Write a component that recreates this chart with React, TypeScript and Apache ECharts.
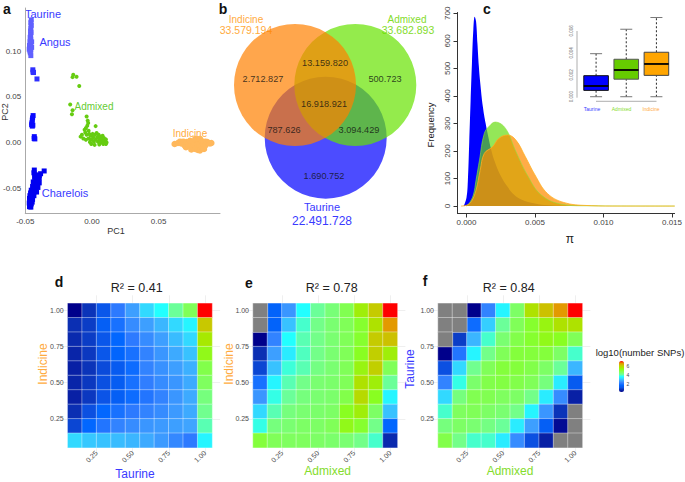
import React, { useEffect, useRef } from "react";
import * as echarts from "echarts";

const FONT = "'Liberation Sans', Arial, sans-serif";

// ---------- panel a: PCA ----------
const angus = [[-0.0455,0.134],[-0.0458,0.131],[-0.0455,0.128],[-0.0458,0.125],[-0.046,0.122],[-0.0456,0.12],[-0.046,0.118],[-0.0463,0.115],[-0.0458,0.113],[-0.0465,0.11],[-0.046,0.108],[-0.0452,0.11],[-0.0468,0.106],[-0.046,0.105],[-0.0452,0.104],[-0.047,0.102],[-0.0465,0.1],[-0.0458,0.101],[-0.0462,0.098],[-0.0458,0.095]];
const taurineMid = [[-0.0443,0.0795],[-0.0442,0.077],[-0.0438,0.0765],[-0.0412,0.0695]];
const taurineDark = [[-0.0441,0.0295],[-0.0445,0.027],[-0.0447,0.0245],[-0.045,0.0215],[-0.0452,0.0195],[-0.0443,0.019],[-0.0447,0.018],[-0.0432,0.0065],[-0.0433,0.0045],[-0.0428,0.004]];
const charolais = [[-0.0432,-0.03],[-0.0435,-0.033],[-0.0425,-0.035],[-0.0358,-0.031],[-0.0385,-0.034],[-0.0395,-0.036],[-0.041,-0.037],[-0.043,-0.038],[-0.0395,-0.039],[-0.042,-0.041],[-0.0405,-0.042],[-0.044,-0.043],[-0.0415,-0.044],[-0.0395,-0.044],[-0.043,-0.046],[-0.041,-0.047],[-0.0445,-0.048],[-0.0425,-0.05],[-0.0405,-0.049],[-0.044,-0.051],[-0.0455,-0.052],[-0.0435,-0.054],[-0.0415,-0.054],[-0.046,-0.055],[-0.0445,-0.056],[-0.0465,-0.058],[-0.0435,-0.058],[-0.0452,-0.06],[-0.0468,-0.061],[-0.0445,-0.062],[-0.0462,-0.064],[-0.0448,-0.065],[-0.047,-0.066],[-0.0455,-0.067],[-0.0465,-0.069],[-0.0458,-0.0705],[-0.0468,-0.07]];
const admixedPts = [[-0.014,0.074],[-0.0145,0.0715],[-0.0115,0.072],[-0.0095,0.0617],[-0.0163,0.0416],[-0.0145,0.0354],[-0.015,0.031],[-0.004,0.0285],[-0.0032,0.024],[-0.0028,0.0215],[0.00275,0.018],[-0.0035,0.0185],[-0.0045,0.016],[-0.0055,0.014],[-0.005,0.011],[-0.0025,0.013],[-0.0075,0.0085],[-0.0085,0.0065],[-0.0065,0.0045],[-0.004,0.0085],[-0.002,0.0095],[-0.001,0.0075],[-0.0045,0.003],[-0.0025,0.0045],[-0.001,0.003],[0.0005,0.0095],[0.001,0.0055],[0.002,0.0085],[0.0015,0.001],[-0.0015,0.0005],[0.003,0.0035],[0.0035,0.0105],[0.004,0.006],[0.0045,0.001],[0.005,0.0085],[0.0055,0.0045],[0.006,0.0015],[0.0065,0.0065],[0.007,0.0],[0.0075,0.004],[0.008,0.0075],[0.0085,0.0015],[0.009,0.005],[0.0095,0.001],[0.0105,0.0035],[0.011,0.0],[0.0105,-0.0015],[0.0085,-0.0015],[0.0055,-0.002],[0.002,-0.0025],[-0.0005,-0.0015],[0.0,0.0035]];
const indicinePts = [[0.062,-0.0015],[0.0645,-0.0005],[0.066,0.001],[0.067,-0.001],[0.0685,0.001],[0.0695,-0.003],[0.071,0.0005],[0.0705,-0.005],[0.0725,-0.002],[0.0735,0.002],[0.074,-0.004],[0.0745,-0.0075],[0.076,0.001],[0.0765,-0.003],[0.0775,0.004],[0.0775,-0.007],[0.079,0.0035],[0.079,-0.002],[0.0795,-0.008],[0.081,0.004],[0.081,-0.0025],[0.081,-0.0085],[0.0825,0.0015],[0.0825,-0.005],[0.0835,-0.0015],[0.084,-0.007],[0.085,0.001],[0.085,-0.003],[0.0865,0.0005],[0.0875,-0.0005],[0.0895,-0.0005],[0.0885,-0.001]];
const pcaXTicks = [-0.05, 0, 0.05];
const pcaYTicks = [-0.05, 0, 0.05, 0.1];

// ---------- panel b: Venn ----------
const vennCounts = ["2.712.827", "13.159.820", "500.723", "16.918.921", "787.626", "3.094.429", "1.690.752"];
const vennTotals = ["33.579.194", "33.682.893", "22.491.728"];

// ---------- panel c: density ----------
const densityTaurine = [[-0.0002,0],[0,30],[0.0001,90],[0.0002,230],[0.0003,380],[0.0004,520],[0.0005,640],[0.0006,688],[0.0007,670],[0.0008,590],[0.0009,510],[0.001,450],[0.0012,360],[0.0014,300],[0.0016,250],[0.0018,205],[0.002,170],[0.0025,110],[0.003,70],[0.0035,40],[0.004,24],[0.005,9],[0.006,3],[0.008,0],[0.0152,0]];
const densityAdmixed = [[0,0],[0.0002,10],[0.0005,40],[0.0007,95],[0.00095,167],[0.0013,264],[0.0017,292],[0.0021,305],[0.00285,282],[0.00356,203],[0.0045,107],[0.00546,40],[0.0069,7],[0.0085,1],[0.0152,0]];
const densityIndicine = [[-0.0004,0],[0,3],[0.00035,16],[0.0007,58],[0.001,130],[0.0013,191],[0.0019,215],[0.00237,246],[0.003,258],[0.0036,240],[0.0043,179],[0.005,113],[0.0059,46],[0.0071,13],[0.0088,2],[0.011,0],[0.0152,0]];
const densityXTicks = [0, 0.005, 0.01, 0.015];
const densityYTicks = [0, 100, 200, 300, 400, 500, 600, 700];

// ---------- panel c inset: boxplots ----------
const boxGroups = ["Taurine", "Admixed", "Indicine"];
const boxStats = [
  [0, 0.00058, 0.00098, 0.00192, 0.00393],
  [0, 0.0016, 0.00244, 0.00342, 0.00616],
  [0, 0.00195, 0.00299, 0.00406, 0.00723],
];
const boxYTicks = [0, 0.002, 0.004, 0.006];

// ---------- panels d, e, f: log10(number of SNPs), rows from top to bottom ----------
const NA = null;
const heatD = [
  [1.0,1.5,1.9,2.7,3.1,3.6,4.0,4.4,4.9,7.0],
  [1.45,1.6,2.1,2.5,2.9,3.1,3.3,3.6,3.9,6.14],
  [1.4,1.6,1.9,2.3,2.7,2.9,3.1,3.35,3.6,5.7],
  [1.35,1.55,1.9,2.25,2.5,2.8,3.0,3.2,3.4,5.4],
  [1.3,1.5,1.75,2.0,2.4,2.8,2.95,3.1,3.25,5.0],
  [1.35,1.55,1.8,2.05,2.5,2.75,2.9,3.0,3.2,4.85],
  [1.3,1.55,1.85,2.1,2.4,2.6,2.8,3.0,3.2,4.6],
  [1.45,1.8,2.3,2.5,2.7,2.8,2.9,3.05,3.2,4.45],
  [1.7,2.3,2.6,2.8,2.9,3.0,3.05,3.1,3.15,4.3],
  [3.6,3.45,3.4,3.35,3.3,3.2,3.05,2.85,2.7,3.9],
];
const heatE = [
  [NA,2.2,3.0,4.0,4.4,4.65,4.95,5.6,6.1,7.0],
  [NA,2.2,3.4,4.2,4.5,4.7,4.9,5.2,5.8,6.5],
  [1.0,2.8,4.0,4.3,4.5,4.7,4.9,5.2,6.1,6.2],
  [1.45,3.1,3.8,4.25,4.5,4.7,4.9,5.3,6.05,5.6],
  [1.7,3.4,4.15,4.3,4.55,4.7,4.9,5.5,6.05,4.9],
  [2.5,3.9,4.3,4.5,4.7,4.75,4.9,5.8,5.6,4.4],
  [3.0,4.1,4.4,4.6,4.7,4.75,5.0,5.9,5.3,3.9],
  [3.6,4.3,4.6,4.7,4.75,4.8,5.3,5.6,4.8,3.4],
  [4.1,4.6,4.7,4.8,4.8,4.9,5.4,5.2,4.5,2.3],
  [5.1,4.9,4.85,4.85,4.8,4.75,4.7,4.5,4.2,1.4],
];
const heatF = [
  [NA,NA,1.0,2.8,3.9,4.8,5.8,6.2,6.5,7.0],
  [NA,NA,2.4,3.5,4.4,4.9,5.2,5.5,5.8,5.8],
  [NA,1.6,3.3,4.2,4.7,5.0,5.2,5.4,5.3,4.9],
  [1.0,2.6,3.9,4.5,4.9,5.1,5.1,5.1,4.8,4.2],
  [1.8,3.6,4.45,4.9,5.1,5.1,5.0,4.8,4.4,3.3],
  [2.8,4.1,4.75,5.0,5.05,5.0,4.9,4.6,3.8,2.0],
  [3.6,4.6,4.95,4.95,4.85,4.8,4.5,3.8,2.9,1.3],
  [4.2,4.85,4.9,4.8,4.7,4.5,3.9,3.0,1.5,NA],
  [4.6,4.8,4.7,4.55,4.4,3.8,3.1,2.1,1.1,NA],
  [5.0,4.5,4.2,4.2,3.8,2.9,1.8,1.3,NA,NA],
];
const heatTicks = [0.25, 0.5, 0.75, 1];
const legendTicks = [6, 4, 2];

// ---------- styles ----------
const BLUE = "#3a3aff";
const GREEN = "#84dc2c";
const ORANGE = "#ffab40";
const JET = ["#00008B","#0B2DB0","#0B55E8","#0066FF","#2F7BFF","#3FA3FF","#33D6FF","#22FFFF","#70FF92","#7FFF5E","#88FF22","#A8E800","#C8C800","#E89000","#FF0000"];

const T = (text: string, x: number, y: number, size: number, fill: string, extra: any = {}) => ({
  type: "text",
  x,
  y,
  rotation: extra.rot ? Math.PI / 2 : 0,
  silent: true,
  style: { text, fill, fontSize: size, fontFamily: FONT, fontWeight: extra.bold ? "bold" : "normal", textAlign: "center", textVerticalAlign: "middle" },
});

const seg = (x1: number, y1: number, x2: number, y2: number, stroke: string) => ({
  type: "line",
  silent: true,
  shape: { x1, y1, x2, y2 },
  style: { stroke, lineWidth: 0.8 },
});

function buildOption() {
  const grid: any[] = [];
  const xAxis: any[] = [];
  const yAxis: any[] = [];
  const series: any[] = [];

  // panel a
  grid.push({ left: 25, top: 8, width: 195, height: 205 });
  const pcaLabel = { fontSize: 8, color: "#444", fontFamily: FONT, formatter: (v: number) => v.toFixed(2) };
  xAxis.push({ type: "value", gridIndex: 0, min: -0.05, max: 0.096, splitLine: { show: false }, axisTick: { show: false, customValues: pcaXTicks }, axisLine: { onZero: false, lineStyle: { color: "#aaa", width: 1 } }, axisLabel: { ...pcaLabel, customValues: pcaXTicks, margin: 4, hideOverlap: false } });
  yAxis.push({ type: "value", gridIndex: 0, min: -0.0769, max: 0.147, splitLine: { show: false }, axisTick: { show: false, customValues: pcaYTicks }, axisLine: { onZero: false, lineStyle: { color: "#aaa", width: 1 } }, axisLabel: { ...pcaLabel, customValues: pcaYTicks, margin: 4 } });
  const pca = (data: number[][], color: string, symbol: string, symbolSize: number) => series.push({ type: "scatter", xAxisIndex: 0, yAxisIndex: 0, data, symbol, symbolSize, itemStyle: { color, opacity: 1 }, silent: true });
  pca(angus, "#6060ff", "rect", 5);
  pca(taurineMid, "#3030ff", "rect", 5);
  pca(taurineDark, "#0a0aff", "rect", 5);
  pca(charolais, "#0000f0", "rect", 5);
  pca(admixedPts, "#66cc11", "circle", 4);
  pca(indicinePts, "#ffb85c", "circle", 6.5);

  // panel b: blue first, then green, orange on top
  grid.push({ left: 220, top: 0, width: 220, height: 240 });
  const hiddenAxis = (gridIndex: number, min: number, max: number, inverse = false) => ({ type: "value", gridIndex, min, max, inverse, show: false });
  xAxis.push(hiddenAxis(1, 220, 440));
  yAxis.push(hiddenAxis(1, 0, 240, true));
  series.push({
    type: "scatter", xAxisIndex: 1, yAxisIndex: 1, silent: true, symbolSize: 122,
    data: [
      { value: [325.7, 137.7], itemStyle: { color: "rgb(0,0,255)", opacity: 0.7 } },
      { value: [355.3, 85], itemStyle: { color: "rgb(102,226,0)", opacity: 0.7 } },
      { value: [295, 85], itemStyle: { color: "rgb(255,128,0)", opacity: 0.7 } },
    ],
  });
  const vennPos = [[263, 79], [325, 63], [385, 79], [324, 104], [284, 130], [359, 130], [324, 176]];
  series.push({
    type: "scatter", xAxisIndex: 1, yAxisIndex: 1, silent: true, symbolSize: 0, z: 5,
    data: vennCounts.map((name, i) => ({ name, value: vennPos[i] })),
    label: { show: true, position: "inside", formatter: "{b}", fontSize: 9.2, color: "#111", fontFamily: FONT },
  });

  // panel c
  grid.push({ left: 457.5, top: 12.5, width: 222.5, height: 201 });
  const axisC = { color: "#333", width: 1 };
  xAxis.push({ type: "value", gridIndex: 2, min: -0.000655, max: 0.01519, splitLine: { show: false }, axisLine: { onZero: false, lineStyle: axisC }, axisTick: { length: 4, customValues: densityXTicks, lineStyle: axisC }, axisLabel: { customValues: densityXTicks, fontSize: 8, color: "#444", fontFamily: FONT, margin: 5, formatter: (v: number) => v.toFixed(3) } });
  yAxis.push({ type: "value", gridIndex: 2, min: -27, max: 703, splitLine: { show: false }, axisLine: { onZero: false, lineStyle: axisC }, axisTick: { length: 4, customValues: densityYTicks, lineStyle: axisC }, axisLabel: { customValues: densityYTicks, fontSize: 8, color: "#444", fontFamily: FONT, rotate: 90, margin: 6 } });
  const dens = (data: number[][], fill: string, opacity: number, line: string, width: number) => series.push({
    type: "line", xAxisIndex: 2, yAxisIndex: 2, data, symbol: "none", smooth: 0.4, silent: true,
    lineStyle: { color: line, width }, areaStyle: { color: fill, opacity, origin: 0 },
  });
  dens(densityTaurine, "#0000ff", 1, "#0000ff", 0);
  dens(densityAdmixed, "#66dd11", 0.7, "#8fe03a", 0.6);
  dens(densityIndicine, "#ff8c00", 0.72, "#ffb020", 0.8);

  // panel c inset
  grid.push({ left: 581, top: 15, width: 90.5, height: 86 });
  xAxis.push({ type: "category", gridIndex: 3, data: boxGroups, axisLine: { show: false }, axisTick: { show: false }, axisLabel: { show: false } });
  yAxis.push({ type: "value", gridIndex: 3, min: -0.00039, max: 0.00746, offset: 4, splitLine: { show: false }, axisLine: { show: false, onZero: false }, axisTick: { length: 2, customValues: boxYTicks, lineStyle: { color: "#888", width: 0.7 } }, axisLabel: { customValues: boxYTicks, fontSize: 4.5, color: "#666", fontFamily: FONT, rotate: 90, margin: 3, formatter: (v: number) => v.toFixed(3) } });
  const boxFill = ["#0000ff", "#66cc00", "#ffa500"];
  const boxEdge = ["#111", "#555", "#444"];
  series.push({
    type: "custom", xAxisIndex: 3, yAxisIndex: 3, silent: true, z: 6,
    data: boxStats.map((s, i) => [i, ...s]),
    encode: { x: 0, y: [1, 2, 3, 4, 5] },
    renderItem: (_: any, api: any) => {
      const i = api.value(0);
      const x = api.coord([i, 0])[0];
      const y = (k: number) => api.coord([i, api.value(k)])[1];
      const hw = 12.3;
      const ln = (x1: number, y1: number, x2: number, y2: number, stroke: string, lineWidth: number, lineDash?: number[]) => ({ type: "line", shape: { x1, y1, x2, y2 }, style: { stroke, lineWidth, lineDash } });
      return {
        type: "group",
        children: [
          ln(x, y(1), x, y(2), "#111", 0.9, [2, 2]),
          ln(x, y(4), x, y(5), "#111", 0.9, [2, 2]),
          ln(x - 6, y(1), x + 6, y(1), "#777", 1),
          ln(x - 6, y(5), x + 6, y(5), "#777", 1),
          { type: "rect", shape: { x: x - hw, y: y(4), width: 2 * hw, height: y(2) - y(4) }, style: { fill: boxFill[i], stroke: boxEdge[i], lineWidth: 1 } },
          ln(x - hw, y(3), x + hw, y(3), "#000", 1.8),
        ],
      };
    },
  });

  // panels d, e, f
  const CELL = 14.44;
  const heatSeries: number[] = [];
  const naSeries: number[] = [];
  const panel = (left: number, rows: (number | null)[][]) => {
    const top = 303.3;
    const size = CELL * 10;
    const ext = 8;
    const perPx = 0.1 / CELL;
    // backing grid: faint reference lines that run past the tiles
    let g = grid.length;
    grid.push({ left: left - ext, top: top - ext, width: size + 2 * ext, height: size + 2 * ext });
    const faint = (min: number, max: number) => ({
      type: "value", gridIndex: g, min, max,
      axisLine: { show: false }, axisLabel: { show: false },
      axisTick: { show: false, customValues: heatTicks },
      splitLine: { show: true, lineStyle: { color: "#efefef", width: 1 } },
    });
    xAxis.push(faint(0.05 - ext * perPx, 1.05 + ext * perPx));
    yAxis.push(faint(0.05 - ext * perPx, 1.05 + ext * perPx));
    // tiles
    g = grid.length;
    grid.push({ left, top, width: size, height: size });
    const cats = ["1", "2", "3", "4", "5", "6", "7", "8", "9", "10"];
    const cat = (position: string) => ({ type: "category", gridIndex: g, data: cats, show: false, position, splitArea: { show: false } });
    const xCat = xAxis.length;
    xAxis.push(cat("top"));
    const yCat = yAxis.length;
    yAxis.push(cat("right"));
    const heatLabel = { customValues: heatTicks, fontSize: 7, color: "#4d4d4d", fontFamily: FONT, formatter: (v: number) => v.toFixed(2) };
    const valueBase = { type: "value", gridIndex: g, min: 0.05, max: 1.05, splitLine: { show: false }, axisLine: { show: false, onZero: false } };
    xAxis.push({ ...valueBase, position: "bottom", axisTick: { show: false, customValues: heatTicks }, axisLabel: { ...heatLabel, rotate: 45, margin: 4 } });
    yAxis.push({ ...valueBase, position: "left", axisTick: { show: false, customValues: heatTicks }, axisLabel: { ...heatLabel, margin: 4, padding: [0, 0, 5, 0] } });
    const data: number[][] = [];
    const naData: number[][] = [];
    rows.forEach((row, r) => row.forEach((v, c) => {
      if (v === null) naData.push([c, 9 - r, 1]);
      else data.push([c, 9 - r, v]);
    }));
    const itemStyle = { borderColor: "rgba(255,255,255,0.55)", borderWidth: 0.7 };
    heatSeries.push(series.length);
    series.push({ type: "heatmap", xAxisIndex: xCat, yAxisIndex: yCat, data, silent: true, itemStyle, emphasis: { disabled: true } });
    naSeries.push(series.length);
    series.push({ type: "heatmap", xAxisIndex: xCat, yAxisIndex: yCat, data: naData, silent: true, itemStyle, emphasis: { disabled: true } });
  };
  panel(67.7, heatD);
  panel(253, heatE);
  panel(438, heatF);

  const graphic = [
    T("a", 7, 9, 14, "#111", { bold: true }),
    T("b", 223, 9, 14, "#111", { bold: true }),
    T("c", 487, 9, 14, "#111", { bold: true }),
    T("d", 59, 282, 14, "#111", { bold: true }),
    T("e", 249, 283, 14, "#111", { bold: true }),
    T("f", 425, 281, 14, "#111", { bold: true }),
    // panel a
    T("Taurine", 43, 14, 11, BLUE),
    T("Angus", 55, 42, 11, BLUE),
    T("Admixed", 94, 106, 10, "#66cc33"),
    T("Indicine", 190, 133, 10, ORANGE),
    T("Charelois", 65, 193, 11, BLUE),
    T("PC1", 116, 231, 9, "#333"),
    T("PC2", 5, 112, 9, "#333", { rot: true }),
    // panel b
    T("Indicine", 246, 19, 10, ORANGE),
    T(vennTotals[0], 246, 30, 10.5, ORANGE),
    T("Admixed", 407, 19, 10, GREEN),
    T(vennTotals[1], 408, 30, 10.5, GREEN),
    T("Taurine", 322, 207, 11, BLUE),
    T(vennTotals[2], 322, 221, 12, BLUE),
    // panel c
    T("Frequency", 430, 125, 9.5, "#222", { rot: true }),
    T("π", 570, 239, 12, "#222"),
    seg(577, 31, 577, 97.7, "#999"),
    seg(596, 101.3, 656.5, 101.3, "#999"),
    T(boxGroups[0], 592, 108.5, 5, BLUE),
    T(boxGroups[1], 621.5, 109, 5, GREEN),
    T(boxGroups[2], 651, 109, 5, ORANGE),
    // heatmap titles and axes
    T("R² = 0.41", 136.7, 288, 12.5, "#222"),
    T("R² = 0.78", 331.7, 288, 12.5, "#222"),
    T("R² = 0.84", 508.7, 288, 12.5, "#222"),
    T("Taurine", 135, 474, 12, BLUE),
    T("Indicine", 42.7, 364, 12, ORANGE, { rot: true }),
    T("Admixed", 327.7, 471, 12, GREEN),
    T("Indicine", 229.3, 364, 12, ORANGE, { rot: true }),
    T("Admixed", 510, 471, 12, GREEN),
    T("Taurine", 410, 369, 12, BLUE, { rot: true }),
    T("log10(number SNPs)", 640, 352, 9.5, "#222"),
    ...legendTicks.map((v) => T(String(v), 628, 388 - (v - 1) * 4.4, 5, "#444")),
  ];

  return {
    animation: false,
    backgroundColor: "#fff",
    grid, xAxis, yAxis, series, graphic,
    visualMap: [
      {
        type: "continuous",
        min: 1, max: 7,
        left: 619, top: 361,
        itemWidth: 5, itemHeight: 31,
        calculable: false, hoverLink: false, realtime: false,
        padding: 0,
        text: ["", ""],
        seriesIndex: heatSeries,
        dimension: 2,
        inRange: { color: JET },
      },
      {
        type: "continuous",
        show: false,
        min: 0, max: 2,
        seriesIndex: naSeries,
        dimension: 2,
        inRange: { color: ["#808080", "#808080"] },
      },
    ],
  };
}

export default function App() {
  const ref = useRef<HTMLDivElement>(null);
  useEffect(() => {
    document.body.style.margin = "0";
    const chart = echarts.init(ref.current!, undefined, { renderer: "svg" });
    chart.setOption(buildOption() as any);
    return () => chart.dispose();
  }, []);
  return <div ref={ref} style={{ width: 685, height: 482 }} />;
}
